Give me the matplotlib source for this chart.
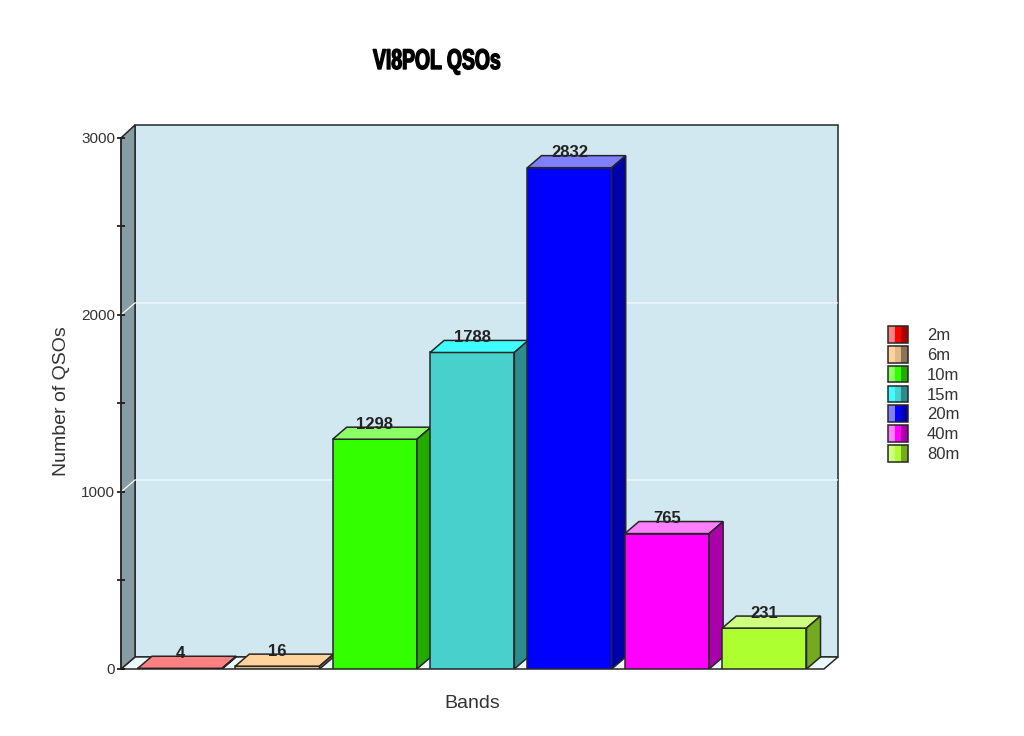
import matplotlib
matplotlib.use("Agg")
import matplotlib.pyplot as plt
import matplotlib.patheffects as pe
from matplotlib.patches import Polygon, Rectangle
from matplotlib.legend_handler import HandlerBase
from matplotlib.transforms import Affine2D

bands = ["2m", "6m", "10m", "15m", "20m", "40m", "80m"]
qsos = [4, 16, 1298, 1788, 2832, 765, 231]
front_colors = ["#FF0000", "#DEB887", "#33FF00", "#48D1CC", "#0000FF", "#FF00FF", "#ADFF2F"]
top_colors = ["#FF8080", "#FFD39B", "#8CFF66", "#40FFFF", "#8080FF", "#FF80FF", "#CFFF80"]
side_colors = ["#AA0000", "#8B7355", "#22AA00", "#2E8B8B", "#0000AA", "#AA00AA", "#73AA1F"]
y_major = [0, 1000, 2000, 3000]
y_minor = [500, 1500, 2500]

W, H = 1024, 736
LINE = "#262626"
plt.rcParams["font.family"] = ["Liberation Sans", "DejaVu Sans"]

fig = plt.figure(figsize=(W / 100, H / 100), dpi=100, facecolor="white")
ax = fig.add_axes([121 / W, 1 - 669 / H, (838 - 121) / W, (669 - 125) / H])

xlo, xhi = -0.606, 6.756
ylo, yhi = 0, 3073
ax.set_xlim(xlo, xhi)
ax.set_ylim(ylo, yhi)
ax.patch.set_visible(False)

dx, dy = 0.144, 68     # depth of the 3D effect, in data units
bw = 0.865             # bar width
ymax = y_major[-1]
xfloor = xhi - dx

# back wall, floor, side wall
ax.add_patch(Polygon([(xlo + dx, dy), (xhi, dy), (xhi, yhi), (xlo + dx, yhi)],
                     fc="#D2E8F0", ec=LINE, lw=1.1, zorder=1, clip_on=False))
ax.add_patch(Polygon([(xlo, 0), (xfloor, 0), (xhi, dy), (xlo + dx, dy)],
                     fc="#ECF8FB", ec=LINE, lw=1.1, zorder=1, clip_on=False))
ax.add_patch(Polygon([(xlo, 0), (xlo + dx, dy), (xlo + dx, yhi), (xlo, ymax)],
                     fc="#879CA3", ec=LINE, lw=1.1, zorder=1, clip_on=False))
for g in y_major[1:-1]:
    ax.plot([xlo, xlo + dx, xhi], [g, g + dy, g + dy], color="#F4FAFC", lw=0.9, zorder=1.5)

# bars
for i, v in enumerate(qsos):
    l, r = i - bw / 2, i + bw / 2
    z = 2 + i * 0.01
    ax.add_patch(Rectangle((l, 0), bw, v, fc=front_colors[i], ec=LINE, lw=1.1, zorder=z))
    ax.add_patch(Polygon([(l, v), (r, v), (r + dx, v + dy), (l + dx, v + dy)],
                         fc=top_colors[i], ec=LINE, lw=1.1, zorder=z))
    ax.add_patch(Polygon([(r, 0), (r + dx, dy), (r + dx, v + dy), (r, v)],
                         fc=side_colors[i], ec=LINE, lw=1.1, zorder=z))
for i, v in enumerate(qsos):
    ax.text(i, v + 84, str(v), ha="center", va="center", fontsize=12,
            fontweight="bold", color="#222222", zorder=5)

# axes
for s in ["top", "right", "bottom"]:
    ax.spines[s].set_visible(False)
ax.spines["left"].set_bounds(0, ymax)
ax.spines["left"].set_color(LINE)
ax.spines["left"].set_linewidth(1.1)
ax.set_xticks([])
ax.set_yticks(y_major)
ax.set_yticks(y_minor, minor=True)
ax.tick_params(axis="y", which="both", direction="inout", length=6, width=1.2, color="#111111",
               labelsize=11, labelcolor="#333333", pad=1.3)
ax.set_ylabel("Number of QSOs", fontsize=14, color="#333333")
ax.yaxis.set_label_coords((61 - 121) / (838 - 121), (669 - 401) / (669 - 125))
ax.set_xlabel("Bands", fontsize=14, color="#333333")
ax.xaxis.set_label_coords((472 - 121) / (838 - 121), -(704 - 669) / (669 - 125))
ax.xaxis.label.set_va("center")
ax.yaxis.label.set_va("center")


class Squeezed(pe.AbstractPathEffect):
    """Narrow, heavy rendering of real text (the source uses a condensed face)."""

    def __init__(self, sx, lw):
        super().__init__()
        self.sx, self.lw = sx, lw

    def draw_path(self, renderer, gc, tpath, affine, rgbFace):
        g = renderer.new_gc()
        g.copy_properties(gc)
        g.set_linewidth(self.lw)
        g.set_foreground("black")
        renderer.draw_path(g, tpath, Affine2D().scale(self.sx, 1) + affine, rgbFace)
        g.restore()


fig.text(373 / W, 1 - 62 / H, "VI8POL QSOs", ha="left", va="center",
         fontsize=20.5, fontweight="bold", color="black",
         path_effects=[Squeezed(0.68, 1.0)])


# legend with three-tone keys
class Key:
    def __init__(self, i):
        self.i = i


class KeyHandler(HandlerBase):
    def create_artists(self, legend, orig, xd, yd, width, height, fontsize, trans):
        i = orig.i
        w = width / 3
        y0, h = -yd - 2.0, height + 3.6
        return [
            Rectangle((-xd, y0), w, h, fc=top_colors[i], ec="none", transform=trans),
            Rectangle((-xd + w, y0), w, h, fc=front_colors[i], ec="none", transform=trans),
            Rectangle((-xd + 2 * w, y0), w, h, fc=side_colors[i], ec="none", transform=trans),
            Rectangle((-xd, y0), width, h, fc="none", ec=LINE, lw=1.1, transform=trans),
        ]


keys = [Key(i) for i in range(len(bands))]
leg = fig.legend(keys, bands, handler_map={Key: KeyHandler()},
                 loc="center left", bbox_to_anchor=(888 / W, 1 - 395 / H),
                 frameon=False, fontsize=12, labelcolor="#333333",
                 borderpad=0, borderaxespad=0, handlelength=1.2,
                 handletextpad=1.14, labelspacing=0.29)

fig.savefig("out.png", dpi=100, facecolor="white")
